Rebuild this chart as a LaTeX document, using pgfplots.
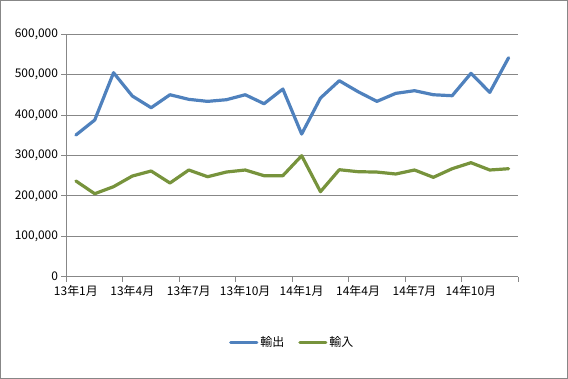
\documentclass[border=0pt]{standalone}
\usepackage{fontspec}
\setmainfont{Noto Sans CJK JP}
\usepackage{pgfplots}
\pgfplotsset{compat=1.18}
\definecolor{expc}{HTML}{4F81BD}
\definecolor{impc}{HTML}{77933C}
\definecolor{gridc}{HTML}{878787}
\begin{document}
\begin{tikzpicture}
\draw[gridc, line width=1bp] (0.5bp,0.5bp) rectangle (567.5bp,378.5bp);
\begin{axis}[
 at={(66.5bp,102.3bp)}, anchor=south west,
 scale only axis, width=451.5bp, height=242.4bp,
 xmin=-0.5, xmax=23.5, ymin=0, ymax=600000,
 axis x line*=bottom, axis y line*=left,
 axis line style={gridc, line width=1bp},
 every tick/.style={gridc, line width=1bp},
 tick align=outside, major tick length=5bp,
 xtick={-0.5,2.5,...,23.5}, xticklabels={},
 extra x ticks={0,3,...,21},
 extra x tick labels={13年1月,13年4月,13年7月,13年10月,14年1月,14年4月,14年7月,14年10月},
 extra x tick style={major tick length=0pt, xticklabel style={yshift=-5bp}},
 ytick={0,100000,...,600000},
 scaled y ticks=false,
 yticklabel style={/pgf/number format/.cd, fixed, 1000 sep={,}, assume math mode=true},
 ymajorgrids, grid style={gridc, line width=1bp},
 tick label style={font=\fontsize{12}{14}\selectfont, text=black},
 legend style={at={(0.5,-0.272)}, anchor=center, draw=none, fill=none,
   legend columns=2, font=\fontsize{12}{14}\selectfont,
   /tikz/every even column/.append style={column sep=12bp}},
 legend image code/.code={\draw[#1] (0bp,0bp) -- (26bp,0bp);},
 every axis plot/.append style={line width=3.2bp, line join=round, line cap=round},
]
\addplot[expc] coordinates {
(0,350700) (1,387800) (2,504900) (3,447200) (4,418300) (5,450400)
(6,439000) (7,434000) (8,438100) (9,450400) (10,428200) (11,464500)
(12,353100) (13,442200) (14,485100) (15,457900) (16,434000) (17,453800)
(18,460400) (19,450400) (20,448000) (21,503400) (22,456300) (23,542000)};
\addlegendentry{輸出}
\addplot[impc] coordinates {
(0,236900) (1,205400) (2,222800) (3,249200) (4,261600) (5,231900)
(6,264100) (7,247500) (8,259100) (9,264100) (10,250000) (11,250000)
(12,299500) (13,210400) (14,264800) (15,259900) (16,259000) (17,254200)
(18,264100) (19,246000) (20,267300) (21,282200) (22,264100) (23,267300)};
\addlegendentry{輸入}
\end{axis}
\end{tikzpicture}
\end{document}
